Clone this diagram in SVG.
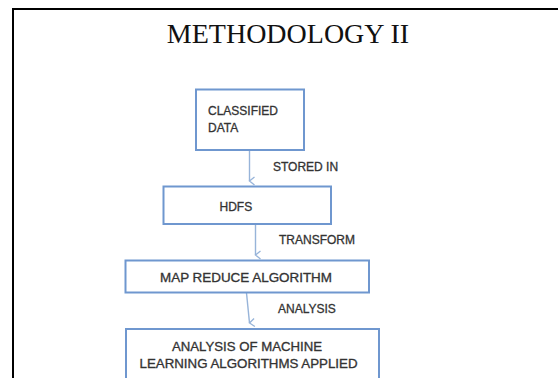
<svg xmlns="http://www.w3.org/2000/svg" width="558" height="378" viewBox="0 0 558 378">
  <style>
    .box { fill: #ffffff; stroke: #6f97cf; stroke-width: 2; }
    .lbl { font-family: "Liberation Sans", Arial, sans-serif; font-size: 12px; fill: #333333; stroke: #333333; stroke-width: 0.3; }
    .edge { fill: none; stroke: #97b4d9; stroke-width: 1.4; }
    .title { font-family: "Liberation Serif", "Times New Roman", serif; font-size: 28px; fill: #111111; }
  </style>
  <defs>
    <marker id="arrow" markerWidth="10" markerHeight="10" refX="5" refY="8" orient="auto-start-reverse" markerUnits="userSpaceOnUse" viewBox="0 0 10 10">
      <path d="M1,3 L5,8 L9,3" fill="none" stroke="#97b4d9" stroke-width="1.3"/>
    </marker>
  </defs>

  <rect width="558" height="378" fill="#ffffff"/>
  <!-- page frame -->
  <path d="M13,378 V9 H558" fill="none" stroke="#000000" stroke-width="2"/>

  <text class="title" x="288" y="43" text-anchor="middle">METHODOLOGY II</text>

  <g id="connectors">
    <line class="edge" x1="249.5" y1="151" x2="249.5" y2="181" marker-end="url(#arrow)"/>
    <line class="edge" x1="255.5" y1="225" x2="255.5" y2="255" marker-end="url(#arrow)"/>
    <line class="edge" x1="246.5" y1="293" x2="249.5" y2="323" marker-end="url(#arrow)"/>
    <text class="lbl" x="273" y="170.5">STORED IN</text>
    <text class="lbl" x="279" y="244">TRANSFORM</text>
    <text class="lbl" x="278" y="312.5">ANALYSIS</text>
  </g>

  <g id="classified-data">
    <rect class="box" x="196" y="89.5" width="108" height="60.5"/>
    <text class="lbl" x="208" y="114.5">CLASSIFIED</text>
    <text class="lbl" x="208" y="131.5">DATA</text>
  </g>

  <g id="hdfs">
    <rect class="box" x="163.5" y="186.5" width="167.5" height="37.5"/>
    <text class="lbl" x="219.5" y="211">HDFS</text>
  </g>

  <g id="map-reduce">
    <rect class="box" x="125.5" y="260.5" width="243.5" height="32"/>
    <text class="lbl" x="160" y="281.5" textLength="172" lengthAdjust="spacingAndGlyphs">MAP REDUCE ALGORITHM</text>
  </g>

  <g id="ml-analysis">
    <rect class="box" x="126" y="329" width="253" height="60"/>
    <text class="lbl" x="172" y="350.5" textLength="150" lengthAdjust="spacingAndGlyphs">ANALYSIS OF MACHINE</text>
    <text class="lbl" x="139.5" y="367.5" textLength="218" lengthAdjust="spacingAndGlyphs">LEARNING ALGORITHMS APPLIED</text>
  </g>
</svg>
